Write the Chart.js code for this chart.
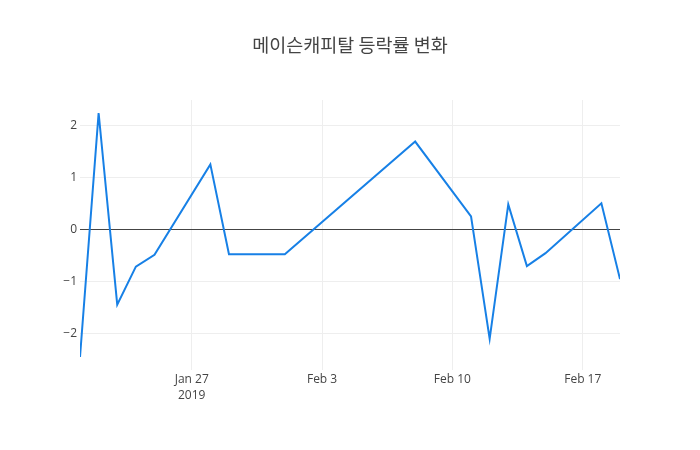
<!DOCTYPE html>
<html>
<head>
<meta charset="utf-8">
<script src="https://cdn.jsdelivr.net/npm/chart.js@4/dist/chart.umd.min.js"></script>
<style>
html,body{margin:0;padding:0;background:#fff;}
#wrap{width:700px;height:450px;position:relative;}
</style>
</head>
<body>
<div id="wrap"><canvas id="c" width="700" height="450"></canvas></div>
<script>
// Day offsets from 2019-01-21
const dates = ["2019-01-21","2019-01-22","2019-01-23","2019-01-24","2019-01-25","2019-01-28","2019-01-29","2019-02-01","2019-02-08","2019-02-11","2019-02-12","2019-02-13","2019-02-14","2019-02-15","2019-02-18","2019-02-19"];
const changeRate = [-2.46, 2.24, -1.45, -0.72, -0.49, 1.25, -0.48, -0.48, 1.69, 0.25, -2.11, 0.48, -0.71, -0.46, 0.50, -0.96];
const xTickDays = [6, 13, 20, 27];
const xTickLabels = [["Jan 27","2019"], ["Feb 3"], ["Feb 10"], ["Feb 17"]];
const yTicks = [-2, -1, 0, 1, 2];
const titleText = "메이슨캐피탈 등락률 변화";

const base = Date.UTC(2019,0,21);
const dayOf = s => { const p = s.split("-").map(Number); return (Date.UTC(p[0],p[1]-1,p[2]) - base) / 86400000; };
const points = dates.map((d,i) => ({x: dayOf(d), y: changeRate[i]}));

const tickFont = {family: "'Open Sans', sans-serif", size: 12};

new Chart(document.getElementById('c'), {
  type: 'line',
  data: { datasets: [{
    data: points,
    borderColor: '#1780e6',
    borderWidth: 2,
    pointRadius: 0,
    tension: 0,
    fill: false
  }]},
  options: {
    responsive: false,
    animation: false,
    layout: { padding: 0 },
    plugins: {
      legend: { display: false },
      tooltip: { enabled: false },
      title: {
        display: true,
        text: titleText,
        color: '#444',
        font: { family: "'Noto Sans CJK KR', 'Open Sans', sans-serif", size: 18.5, weight: 'normal', lineHeight: 1.2 },
        padding: { top: 34, bottom: 43.8 }
      }
    },
    scales: {
      x: {
        type: 'linear',
        min: 0,
        max: 29,
        afterBuildTicks: (axis) => { axis.ticks = xTickDays.map(v => ({value: v})); },
        afterFit: (axis) => { axis.height = 80; },
        ticks: {
          color: '#444',
          font: Object.assign({lineHeight: 1.3}, tickFont),
          padding: 2,
          maxRotation: 0,
          autoSkip: false,
          callback: (v) => { const i = xTickDays.indexOf(v); return i >= 0 ? xTickLabels[i] : ''; }
        },
        grid: { color: '#eee', drawTicks: false },
        border: { display: false }
      },
      y: {
        min: -2.71,
        max: 2.49,
        afterBuildTicks: (axis) => { axis.ticks = yTicks.map(v => ({value: v})); },
        afterFit: (axis) => { axis.width = 80; },
        ticks: {
          color: '#444',
          font: tickFont,
          padding: 3,
          callback: (v) => v < 0 ? '\u2212' + Math.abs(v) : String(v)
        },
        grid: {
          drawTicks: false,
          color: (ctx) => (ctx.tick && ctx.tick.value === 0) ? '#444' : '#eee',
          lineWidth: 1
        },
        border: { display: false }
      },
      yRight: {
        position: 'right',
        min: -2.71,
        max: 2.49,
        afterFit: (axis) => { axis.width = 80; },
        ticks: { display: false },
        grid: { display: false, drawTicks: false },
        border: { display: false }
      }
    }
  }
});
</script>
</body>
</html>
